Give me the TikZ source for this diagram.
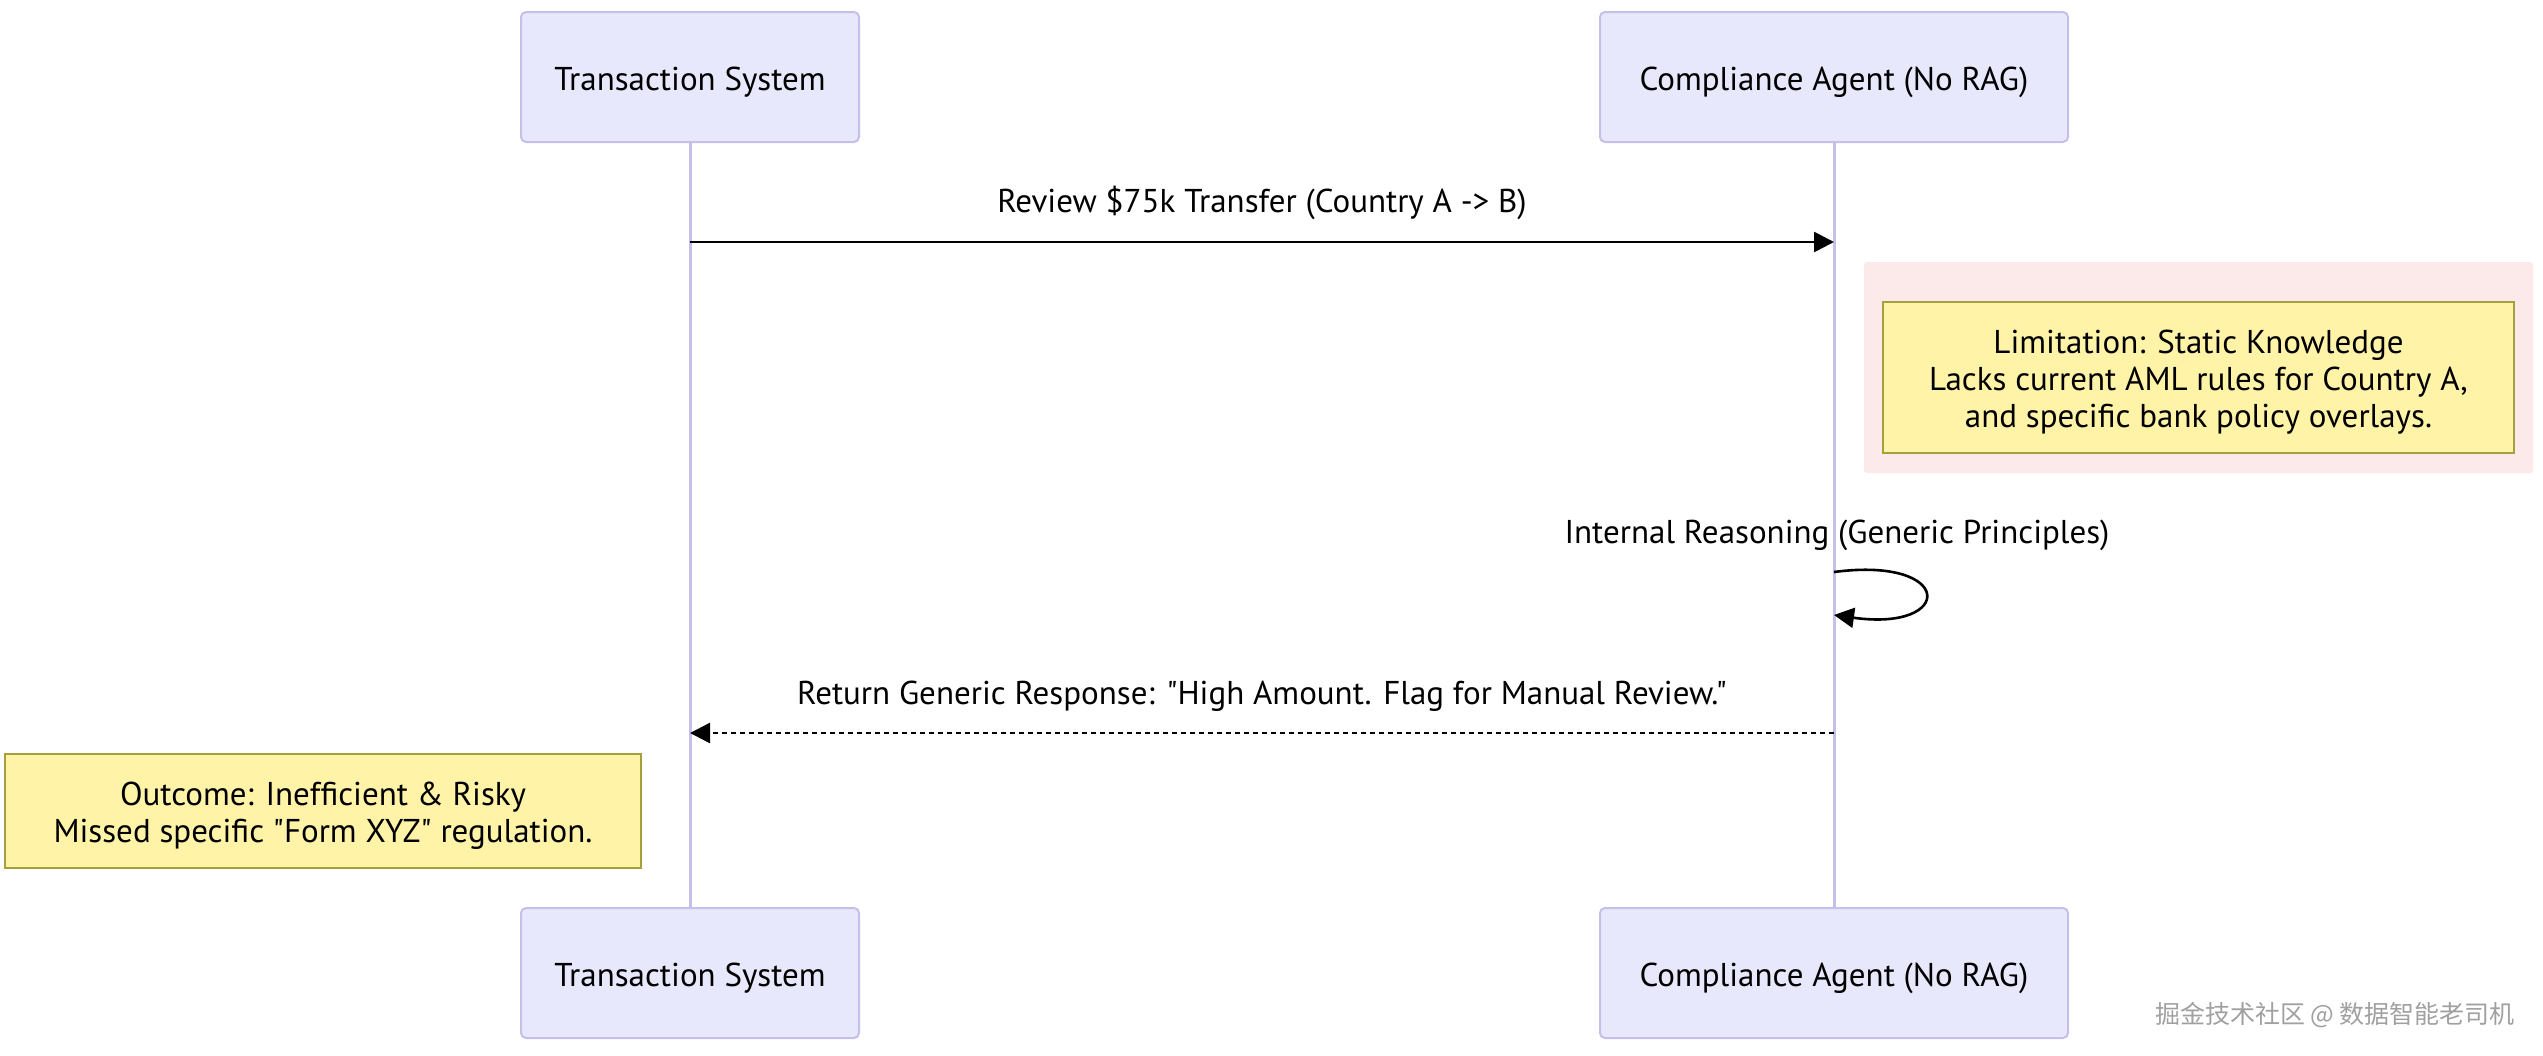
\documentclass[tikz,border=0pt]{standalone}
\usepackage{fontspec}
\setmainfont{PT Sans}[Ligatures=TeXOff]
\newfontfamily\cjk{Noto Sans CJK SC}
\usetikzlibrary{arrows.meta}
\definecolor{actorfill}{HTML}{E8E8FC}
\definecolor{actorline}{HTML}{C5BFEA}
\definecolor{notefill}{HTML}{FFF3A8}
\definecolor{noteline}{HTML}{A59F3E}
\definecolor{pinkbg}{HTML}{FCE9E9}
\definecolor{wmgray}{HTML}{A0A0A0}
\begin{document}
\begin{tikzpicture}[x=1pt,y=-1pt,
  actor/.style={draw=actorline, fill=actorfill, line width=2pt, rounded corners=5pt,
    minimum height=130pt, inner sep=0pt, text height=26.5pt, text depth=0pt,
    font=\fontsize{33}{40}\selectfont},
  lifeline/.style={draw=actorline, line width=3pt},
  msgtext/.style={font=\fontsize{33}{40}\selectfont, inner sep=0pt},
  msgline/.style={line width=2.6pt, -{Triangle[length=20pt,width=20pt]}},
  notebox/.style={draw=noteline, fill=notefill, line width=2pt, inner sep=0pt},
  notetext/.style={align=center, inner sep=0pt, yshift=-5pt,
    font=\fontsize{33}{37}\selectfont},
  pinkrect/.style={fill=pinkbg, rounded corners=3pt, inner sep=0pt}
]
\useasboundingbox (0,0) rectangle (2543,1055);
% actors
\node[actor, minimum width=338pt] (ts) at (690,77) {Transaction System};
\node[actor, minimum width=468pt] (ca) at (1834,77) {Compliance Agent (No RAG)};
\node[actor, minimum width=338pt] (tsb) at (690,973) {Transaction System};
\node[actor, minimum width=468pt] (cab) at (1834,973) {Compliance Agent (No RAG)};
% lifelines
\draw[lifeline] (ts.south) -- (tsb.north);
\draw[lifeline] (ca.south) -- (cab.north);
% message 1
\coordinate (m1s) at (690,242);
\coordinate (m1e) at (1834,242);
\node[msgtext] (l1) at (1262,203) {Review \$75k Transfer (Country A -> B)};
\draw[msgline] (m1s) -- (m1e);
% limitation note
\node[pinkrect, minimum width=669pt, minimum height=211pt] (pk) at (2198.5,367.5) {};
\node[notebox, minimum width=631pt, minimum height=151pt,
  label={[notetext]center:{Limitation: Static Knowledge\\Lacks current AML rules for Country A,\\and specific bank policy overlays.}}]
  (n1) at (2198.5,377.5) {};
% self message
\node[msgtext] (l2) at (1837,535) {Internal Reasoning (Generic Principles)};
\coordinate (s1) at (1834,572);
\coordinate (s2) at (1834,615);
\draw[line width=2.6pt, -{Triangle[length=20pt,width=20pt]}] (s1) .. controls (1955,556) and (1955,632) .. (s2);
% return message
\node[msgtext] (l3) at (1262,696) {Return Generic Response: "High Amount. Flag for Manual Review."};
\coordinate (m2s) at (1834,733);
\coordinate (m2e) at (690,733);
\draw[msgline, dash pattern=on 5pt off 4pt] (m2s) -- (m2e);
% outcome note
\node[notebox, minimum width=636pt, minimum height=114pt,
  label={[notetext]center:{Outcome: Inefficient \& Risky\\Missed specific "Form XYZ" regulation.}}]
  (n2) at (323,811) {};
% watermark
\node[font=\cjk\fontsize{25}{30}\selectfont, text=wmgray, inner sep=0pt] (wm) at (2335,1015)
  {掘金技术社区 @ 数据智能老司机};
\end{tikzpicture}
\end{document}
